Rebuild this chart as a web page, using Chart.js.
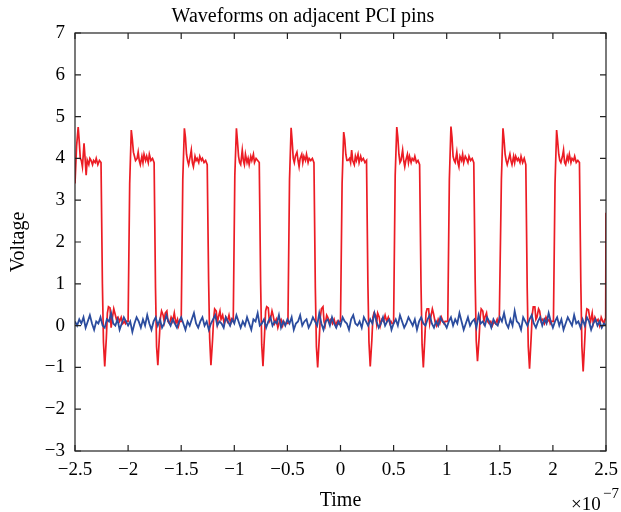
<!DOCTYPE html>
<html lang="en">
<head>
    <meta charset="UTF-8">
    <title>Waveforms on adjacent PCI pins</title>
    <style>
        html, body { margin: 0; padding: 0; background: #fff; }
        #wrap { width: 621px; height: 512px; }
    </style>
    <script src="https://cdn.jsdelivr.net/npm/chart.js"></script>
</head>
<body>
    <div id="wrap"><canvas id="pciChart" width="621" height="512"></canvas></div>

    <script>
        // time is in units of 1e-7 s (see the x10^-7 label)
        const xTicks = [-2.5, -2, -1.5, -1, -0.5, 0, 0.5, 1, 1.5, 2, 2.5];
        const yTicks = [-3, -2, -1, 0, 1, 2, 3, 4, 5, 6, 7];

        // red trace: rising edge time of each pulse
        const pulseStart = [-2.5, -2.0, -1.5, -1.01, -0.495, 0.0, 0.5, 1.01, 1.5, 2.005];
        // sample times inside one period, relative to the rising edge
        const sampleOffset = [0, 0.015, 0.03, 0.04, 0.05, 0.06, 0.07, 0.085, 0.095, 0.105,
            0.115, 0.13, 0.14, 0.15, 0.165, 0.175, 0.19, 0.2, 0.215, 0.23,
            0.245, 0.258, 0.268, 0.28, 0.295, 0.305, 0.315, 0.33, 0.34, 0.35,
            0.365, 0.375, 0.39, 0.405, 0.42, 0.435, 0.45, 0.465, 0.475, 0.485];
        // voltage read for each pulse at those offsets
        const pulseVolt = [
            [3.4, 4.3, 4.75, 4.4, 4.0, 3.95, 3.8, 4.36, 4.0, 3.6,
             3.96, 3.85, 4.0, 3.96, 3.85, 3.95, 3.9, 4.0, 3.85, 3.95,
             3.9, 1.0, -0.4, -0.98, -0.3, 0.3, 0.45, 0.42, -0.05, 0.15,
             0.4, 0.3, 0.15, 0.2, 0.1, 0.2, 0.05, 0.1, 0.05, 0.1],
            [0.1, 3.4, 4.68, 4.45, 4.15, 4.05, 3.95, 4.0, 4.15, 3.95,
             3.85, 4.05, 3.9, 4.1, 3.95, 4.05, 3.9, 4.1, 3.95, 4.0,
             3.9, 0.9, -0.5, -0.95, -0.25, 0.2, 0.35, 0.25, 0.1, 0.3,
             0.35, 0.1, 0.05, 0.2, 0.1, 0.3, 0.05, 0.15, 0.0, 0.1],
            [0.1, 3.5, 4.72, 4.5, 4.1, 3.95, 3.85, 4.05, 4.2, 3.9,
             3.8, 4.05, 3.95, 4.0, 3.9, 4.05, 3.95, 4.0, 3.9, 3.95,
             3.85, 1.1, -0.3, -0.95, -0.35, 0.15, 0.4, 0.35, 0.05, 0.2,
             0.35, 0.15, 0.25, 0.05, 0.2, 0.1, 0.25, 0.05, 0.15, 0.1],
            [0.1, 3.6, 4.72, 4.4, 4.05, 3.9, 3.85, 4.2, 3.95, 3.85,
             4.1, 3.9, 4.0, 3.85, 4.05, 3.95, 4.1, 3.9, 4.0, 3.95,
             3.9, 1.0, -0.45, -0.97, -0.2, 0.35, 0.45, 0.42, 0.1, 0.15,
             0.35, 0.25, 0.05, 0.15, -0.05, 0.1, 0.15, 0.0, 0.1, 0.05],
            [0.05, 3.5, 4.73, 4.4, 4.0, 3.9, 4.05, 4.15, 3.95, 3.8,
             4.0, 4.1, 3.9, 4.05, 3.95, 4.1, 3.9, 4.0, 3.95, 4.0,
             3.9, 0.9, -0.5, -1.0, -0.3, 0.2, 0.4, 0.45, 0.1, 0.0,
             0.25, 0.2, 0.1, 0.15, 0.05, 0.15, 0.0, 0.1, 0.05, 0.1],
            [0.1, 3.4, 4.63, 4.45, 4.1, 3.95, 3.95, 4.0, 3.9, 4.2,
             3.95, 3.85, 4.05, 3.95, 4.1, 3.9, 4.05, 3.95, 4.0, 3.9,
             3.95, 1.0, -0.4, -0.98, -0.35, 0.2, 0.3, 0.25, 0.05, 0.3,
             0.2, 0.0, 0.15, 0.1, 0.25, 0.1, 0.2, 0.05, 0.1, 0.05],
            [0.05, 3.6, 4.75, 4.5, 4.1, 3.9, 3.95, 4.2, 3.95, 3.8,
             3.95, 4.1, 3.9, 4.05, 3.9, 4.0, 3.95, 4.05, 3.9, 3.95,
             3.85, 1.0, -0.45, -1.0, -0.25, 0.3, 0.4, 0.4, 0.05, 0.2,
             0.4, 0.3, 0.1, 0.0, 0.15, 0.05, 0.2, 0.1, 0.05, 0.1],
            [0.1, 3.5, 4.76, 4.5, 4.05, 3.95, 3.9, 4.15, 3.9, 3.8,
             4.05, 3.95, 4.1, 3.9, 4.05, 4.0, 3.9, 4.05, 3.95, 4.0,
             3.9, 1.1, -0.35, -0.85, -0.3, 0.2, 0.4, 0.35, 0.1, 0.2,
             0.3, 0.1, 0.05, 0.1, 0.0, 0.1, 0.05, 0.15, 0.05, 0.1],
            [0.1, 3.5, 4.72, 4.45, 4.1, 3.95, 3.85, 4.0, 4.1, 3.95,
             3.85, 4.05, 3.9, 4.05, 3.95, 4.0, 3.9, 4.05, 3.9, 4.0,
             3.85, 0.9, -0.5, -1.03, -0.3, 0.25, 0.45, 0.45, 0.15, 0.2,
             0.4, 0.35, 0.1, 0.15, 0.05, 0.2, 0.1, 0.15, 0.05, 0.1],
            [0.1, 3.4, 4.68, 4.4, 4.1, 3.95, 3.9, 4.05, 4.2, 3.9,
             3.85, 4.05, 3.95, 4.1, 3.9, 4.0, 3.95, 4.05, 3.9, 3.95,
             3.9, 1.0, -0.5, -1.1, -0.35, 0.2, 0.4, 0.38, 0.2, 0.1,
             0.3, 0.05, 0.2, 0.1, 0.15, 0.0, 0.2, 0.1, 0.05, 0.15]
        ];
        // next edge just starting at the right border
        const redTailTime = [2.497, 2.5];
        const redTailVolt = [0.15, 2.7];

        // blue trace: quiet neighbour pin, sampled every 0.02
        const blueStart = -2.5;
        const blueStep = 0.02;
        const blueVolt = [
            0.1, 0.0, 0.15, 0.05, 0.2, -0.05, 0.1, 0.25, 0.05, -0.1, 0.1, 0.05, 0.2, 0.0, -0.05, 0.15, 0.1, 0.3, 0.05, 0.0, 0.15, -0.1, 0.05, 0.2, 0.1,
            0.0, 0.1, -0.15, 0.05, 0.2, 0.1, -0.05, 0.15, 0.0, 0.25, 0.05, -0.1, 0.1, 0.2, 0.0, 0.15, -0.05, 0.05, 0.25, 0.1, 0.0, 0.15, 0.05, -0.05, 0.1,
            0.2, 0.05, -0.1, 0.1, 0.0, 0.15, 0.3, 0.05, -0.05, 0.1, 0.2, 0.0, 0.1, -0.1, 0.05, 0.15, 0.25, 0.0, 0.1, 0.05, -0.05, 0.2, 0.1, 0.0, 0.15,
            0.05, 0.25, 0.1, -0.05, 0.1, 0.0, 0.2, 0.05, -0.1, 0.15, 0.1, 0.3, 0.0, 0.05, 0.15, -0.05, 0.1, 0.2, 0.0, 0.1, 0.05, 0.25, -0.05, 0.1, 0.0,
            0.15, 0.05, 0.2, -0.1, 0.05, 0.1, 0.25, 0.0, 0.1, 0.15, -0.05, 0.05, 0.2, 0.1, 0.0, 0.3, 0.05, -0.1, 0.1, 0.15, 0.0, 0.2, 0.05, -0.05, 0.1,
            0.0, 0.2, 0.1, 0.05, -0.1, 0.15, 0.25, 0.05, 0.0, 0.1, -0.05, 0.2, 0.1, 0.0, 0.15, 0.05, 0.3, 0.1, -0.05, 0.05, 0.2, 0.0, 0.1, 0.15, -0.1,
            0.05, 0.15, 0.0, 0.25, 0.1, -0.05, 0.05, 0.2, 0.1, 0.0, 0.15, -0.1, 0.1, 0.2, 0.05, 0.0, 0.15, 0.25, 0.05, -0.05, 0.1, 0.0, 0.2, 0.1, 0.05,
            -0.05, 0.1, 0.2, 0.0, 0.15, 0.05, 0.3, 0.1, -0.1, 0.05, 0.2, 0.0, 0.1, 0.15, -0.05, 0.25, 0.05, 0.1, 0.0, 0.2, 0.1, -0.05, 0.15, 0.05, 0.0,
            0.2, 0.1, 0.3, 0.05, -0.05, 0.15, 0.0, 0.35, 0.1, 0.05, -0.1, 0.2, 0.1, 0.0, 0.15, 0.25, 0.05, -0.05, 0.1, 0.2, 0.0, 0.15, 0.05, 0.3, 0.1,
            -0.05, 0.1, 0.2, 0.0, 0.15, -0.1, 0.05, 0.2, 0.1, 0.0, 0.25, 0.05, 0.1, -0.05, 0.15, 0.0, 0.2, 0.1, -0.1, 0.05, 0.15, 0.0, 0.1, -0.05, 0.05,
            0.0
        ];

        const serif = '"Liberation Serif", "DejaVu Serif", serif';

        // build point lists
        const redPoints = [];
        pulseStart.forEach((t0, i) => {
            sampleOffset.forEach((dt, j) => {
                redPoints.push({ x: t0 + dt, y: pulseVolt[i][j] });
            });
        });
        redTailTime.forEach((t, i) => redPoints.push({ x: t, y: redTailVolt[i] }));

        const bluePoints = blueVolt.map((v, i) => ({ x: blueStart + i * blueStep, y: v }));

        function fmt(v) {
            const r = Math.round(v * 10) / 10;
            return r < 0 ? '\u2212' + Math.abs(r) : String(r);
        }

        // box round the plot, inward ticks on all sides, and the x10^-7 note
        const boxTicks = {
            id: 'boxTicks',
            afterDraw(chart) {
                const { ctx, chartArea: a, scales } = chart;
                const x = scales.x, y = scales.y;
                ctx.save();
                ctx.strokeStyle = '#222';
                ctx.lineWidth = 1.2;
                ctx.strokeRect(a.left, a.top, a.right - a.left, a.bottom - a.top);
                ctx.beginPath();
                xTicks.forEach(v => {
                    const px = x.getPixelForValue(v);
                    ctx.moveTo(px, a.bottom); ctx.lineTo(px, a.bottom - 6);
                    ctx.moveTo(px, a.top); ctx.lineTo(px, a.top + 6);
                });
                yTicks.forEach(v => {
                    const py = y.getPixelForValue(v);
                    ctx.moveTo(a.left, py); ctx.lineTo(a.left + 6, py);
                    ctx.moveTo(a.right, py); ctx.lineTo(a.right - 6, py);
                });
                ctx.stroke();

                ctx.fillStyle = '#000';
                ctx.textAlign = 'left';
                ctx.textBaseline = 'alphabetic';
                ctx.font = '19px ' + serif;
                ctx.fillText('\u00d710', 571, 510);
                ctx.font = '15px ' + serif;
                ctx.fillText('\u22127', 603, 498);
                ctx.restore();
            }
        };

        new Chart(document.getElementById('pciChart'), {
            type: 'line',
            data: {
                datasets: [
                    {
                        label: 'Adjacent pin',
                        data: bluePoints,
                        borderColor: '#2b4c9e',
                        borderWidth: 1.8,
                        pointRadius: 0,
                        tension: 0,
                        fill: false
                    },
                    {
                        label: 'PCI signal',
                        data: redPoints,
                        borderColor: '#ec1c24',
                        borderWidth: 1.7,
                        pointRadius: 0,
                        tension: 0,
                        fill: false
                    }
                ]
            },
            options: {
                responsive: false,
                animation: false,
                devicePixelRatio: 1,
                layout: { padding: { left: 0, right: 15, top: 0, bottom: 0 } },
                plugins: {
                    legend: { display: false },
                    tooltip: { enabled: false },
                    title: {
                        display: true,
                        text: 'Waveforms on adjacent PCI pins',
                        color: '#000',
                        font: { family: serif, size: 20, weight: 'normal' },
                        padding: { top: 5, bottom: 4 }
                    }
                },
                scales: {
                    x: {
                        type: 'linear',
                        min: -2.5,
                        max: 2.5,
                        afterBuildTicks: s => { s.ticks = xTicks.map(v => ({ value: v })); },
                        afterFit: s => {
                            s.height = 61;
                            s.paddingLeft = 0;
                            s.paddingRight = 0;
                        },
                        grid: { display: false, drawTicks: false },
                        border: { display: false },
                        ticks: {
                            color: '#000',
                            padding: 8,
                            maxRotation: 0,
                            autoSkip: false,
                            font: { family: serif, size: 19 },
                            callback: v => fmt(v)
                        },
                        title: {
                            display: true,
                            text: 'Time',
                            color: '#000',
                            font: { family: serif, size: 20 },
                            padding: { top: -1, bottom: -1 }
                        }
                    },
                    y: {
                        type: 'linear',
                        min: -3,
                        max: 7,
                        afterBuildTicks: s => { s.ticks = yTicks.map(v => ({ value: v })); },
                        afterFit: s => { s.width = 75; },
                        grid: { display: false, drawTicks: false },
                        border: { display: false },
                        ticks: {
                            color: '#000',
                            padding: 10,
                            autoSkip: false,
                            font: { family: serif, size: 19 },
                            callback: v => fmt(v)
                        },
                        title: {
                            display: true,
                            text: 'Voltage',
                            color: '#000',
                            font: { family: serif, size: 20 },
                            padding: 7
                        }
                    }
                }
            },
            plugins: [boxTicks]
        });
    </script>
</body>
</html>
